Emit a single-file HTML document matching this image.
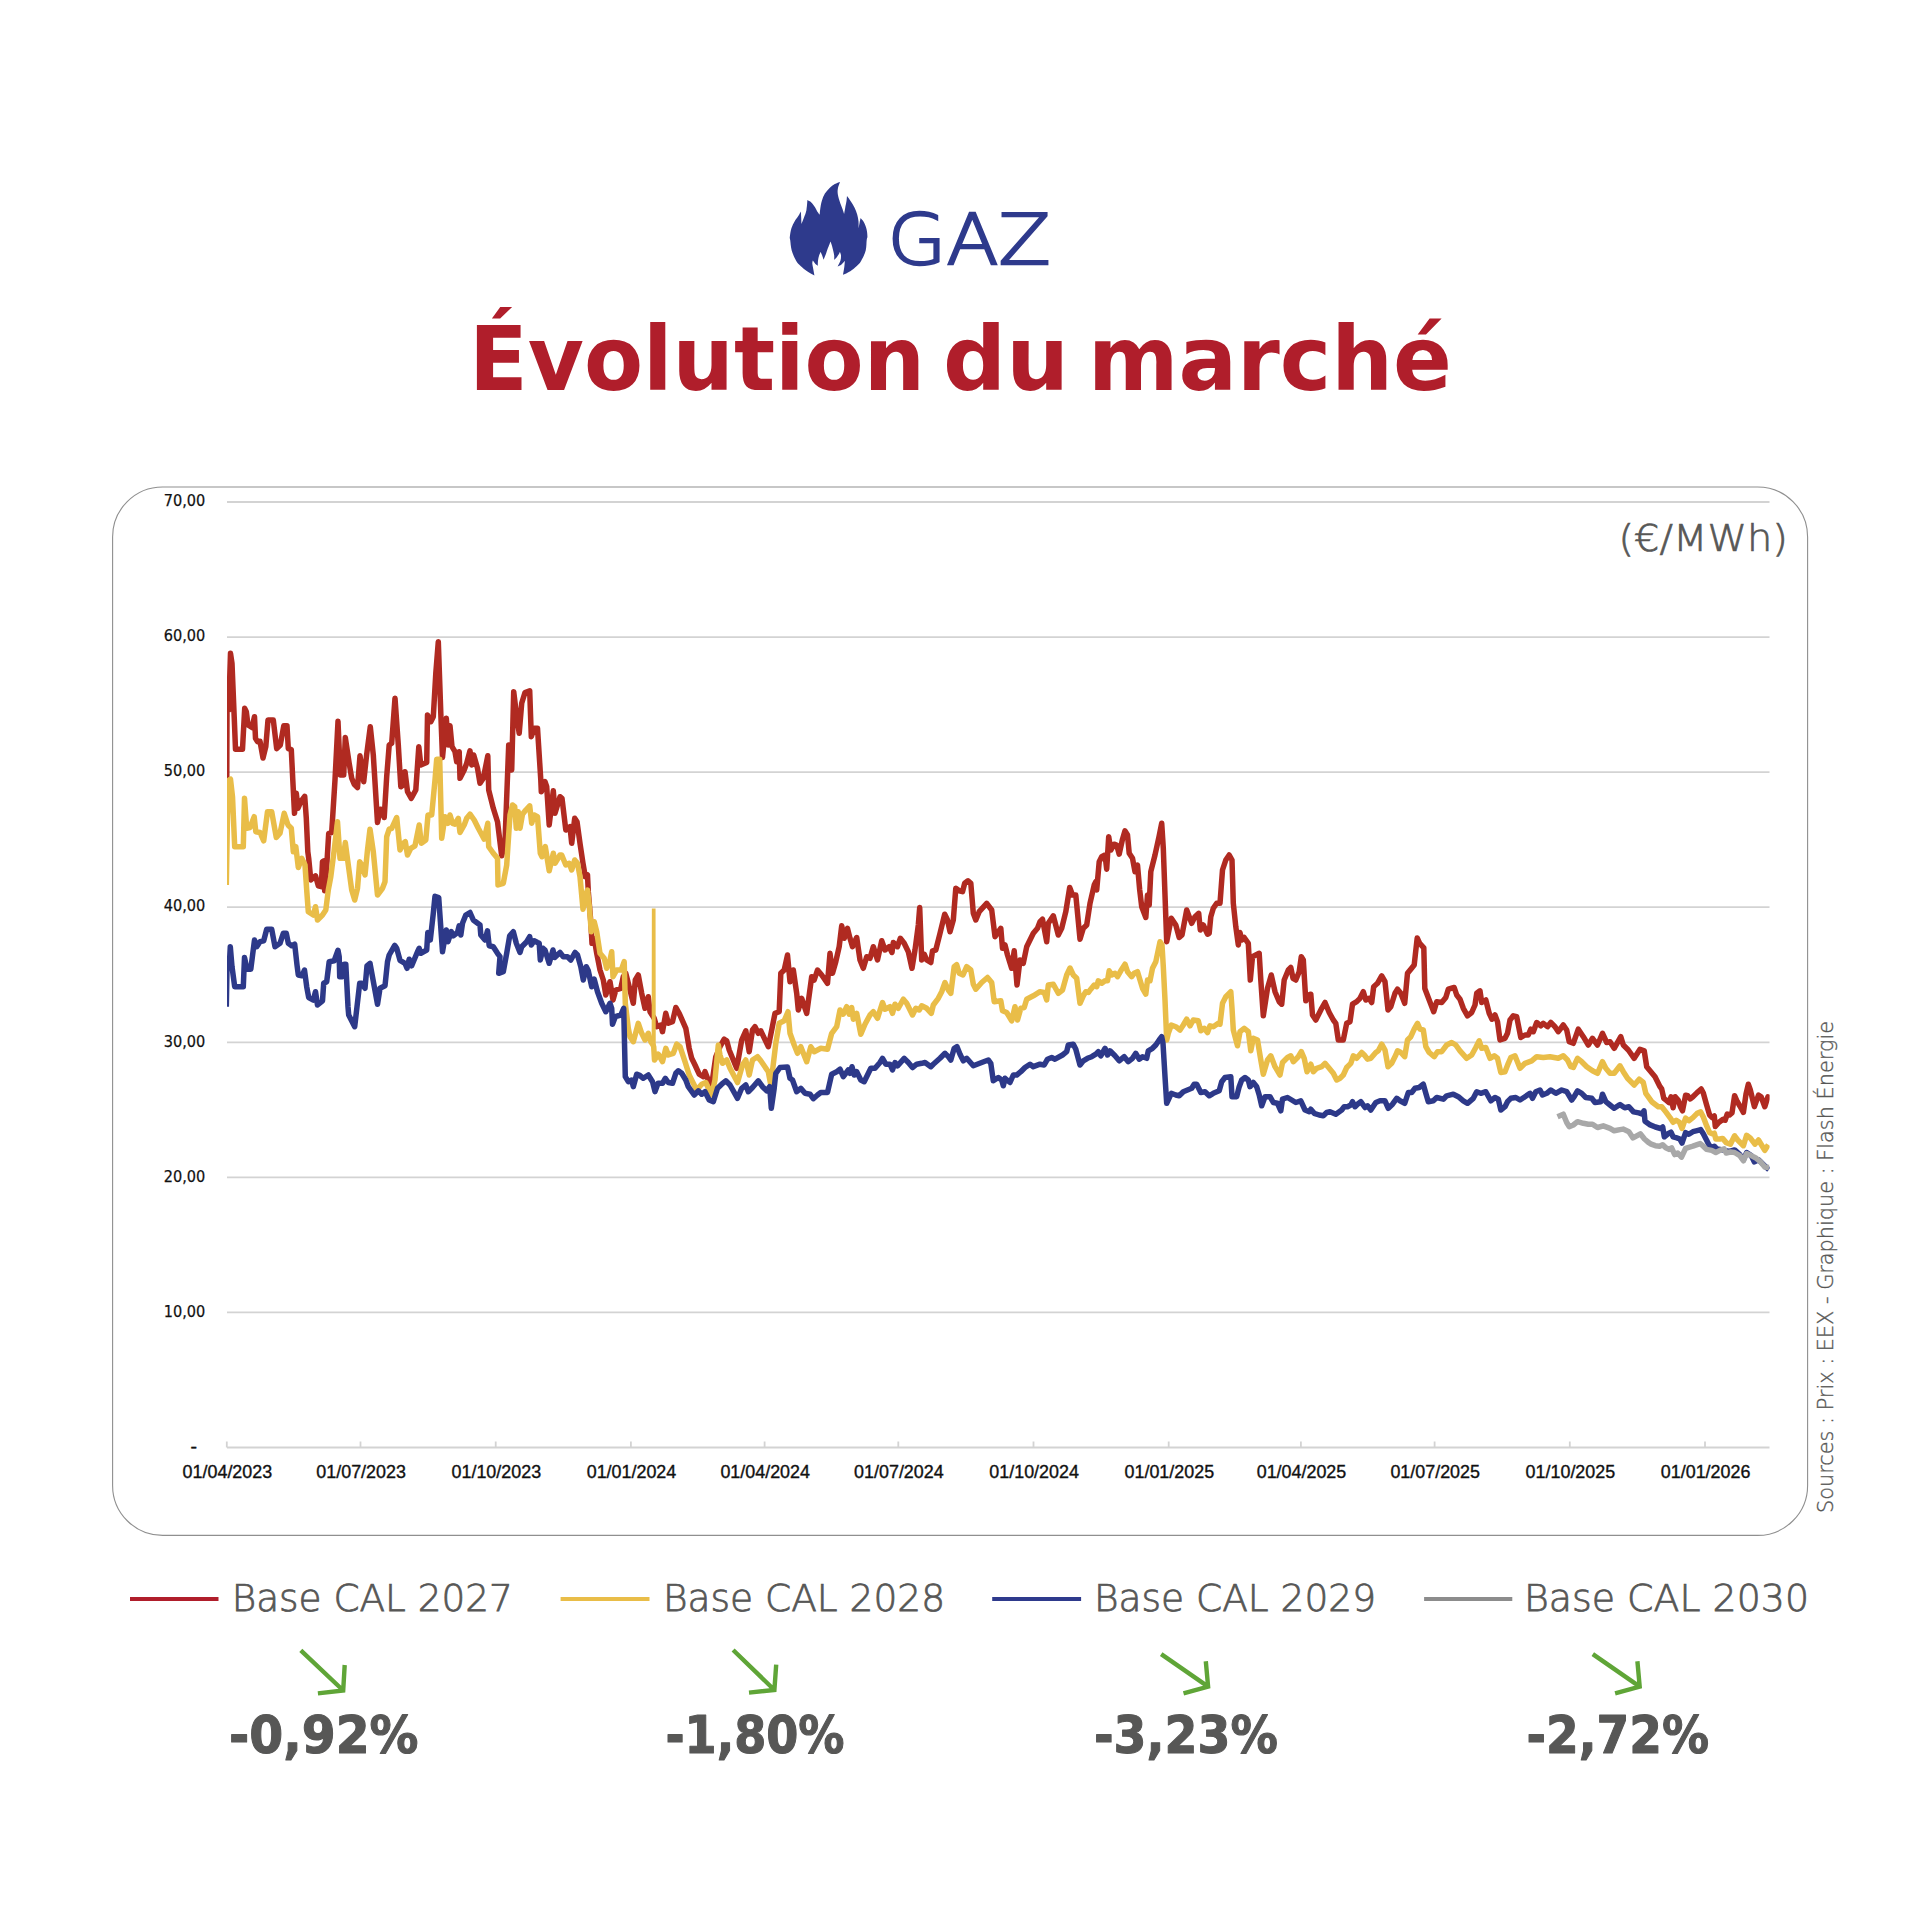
<!DOCTYPE html>
<html lang="fr"><head><meta charset="utf-8"><title>GAZ - Évolution du marché</title>
<style>
html,body{margin:0;padding:0;background:#fff;}
body{width:1920px;height:1920px;overflow:hidden;font-family:"Liberation Sans","DejaVu Sans",sans-serif;}
svg{display:block;}
.lt{font-family:"DejaVu Sans","Liberation Sans",sans-serif;font-weight:200;}
.bd{font-family:"DejaVu Sans","Liberation Sans",sans-serif;font-weight:bold;}
.ax{font-family:"Liberation Sans","DejaVu Sans",sans-serif;}
.ay{font-family:"DejaVu Sans","Liberation Sans",sans-serif;}
</style></head><body>
<svg width="1920" height="1920" viewBox="0 0 1920 1920">
<rect width="1920" height="1920" fill="#ffffff"/>
<g id="header">
<path id="flame" fill="#2e3a8c" d="M840.0,181.9 C839.6,183.0 838.2,186.3 837.9,188.4 C837.5,190.5 837.5,192.2 837.9,194.7 C838.3,197.1 839.5,200.6 840.2,203.0 C841.0,205.4 841.9,207.4 842.6,209.2 C843.2,211.1 843.9,213.2 844.1,213.9 C844.4,212.7 845.1,208.8 845.4,206.6 C845.8,204.5 846.2,202.7 846.5,200.9 C846.8,199.1 846.9,196.8 847.0,196.0 C847.7,196.9 849.7,199.5 850.9,201.4 C852.2,203.4 853.5,205.5 854.6,207.7 C855.6,209.9 856.5,212.2 857.2,214.5 C857.8,216.7 858.2,218.9 858.5,221.2 C858.7,223.5 858.6,227.1 858.6,228.3 C858.8,227.4 859.2,225.0 859.5,223.3 C859.8,221.6 860.4,219.0 860.6,218.1 C861.1,218.8 862.9,220.4 863.9,222.3 C864.9,224.1 866.0,226.7 866.5,229.0 C867.1,231.4 867.4,234.5 867.4,236.3 C867.5,238.2 867.0,237.7 866.7,240.0 C866.4,242.3 866.6,246.9 865.7,250.4 C864.8,253.9 862.7,258.2 861.2,260.8 C859.8,263.4 858.6,264.3 856.8,266.0 C855.0,267.8 852.6,269.8 850.3,271.2 C848.0,272.7 844.2,274.2 843.0,274.8 C843.2,273.5 844.0,269.4 844.3,267.1 C844.6,264.8 844.8,261.9 844.8,260.8 C844.3,261.4 842.7,263.5 841.5,264.5 C840.2,265.4 838.2,266.2 837.6,266.6 C838.0,265.6 839.8,262.7 840.4,260.8 C841.0,259.0 841.1,257.1 841.0,255.6 C841.0,254.1 840.1,252.4 839.9,251.7 C839.7,252.1 839.4,253.2 838.9,254.1 C838.3,255.0 837.6,256.2 836.8,257.2 C836.0,258.1 834.6,259.4 834.2,259.8 C834.2,259.1 834.3,257.0 834.2,255.6 C834.0,254.2 833.7,253.0 833.4,251.5 C833.0,249.9 832.6,247.9 832.1,246.2 C831.6,244.6 830.8,242.3 830.5,241.6 C830.3,242.0 830.0,242.9 829.5,244.2 C829.0,245.5 828.1,247.5 827.4,249.4 C826.7,251.3 826.0,253.9 825.3,255.6 C824.7,257.4 823.8,259.1 823.5,259.8 C823.3,259.1 822.7,257.0 822.2,255.6 C821.7,254.3 820.9,252.4 820.6,251.7 C820.4,252.4 819.5,254.1 819.1,255.6 C818.6,257.1 818.2,259.1 818.0,260.8 C817.8,262.5 817.8,265.0 817.8,265.8 C817.4,265.5 816.2,264.8 815.4,264.0 C814.6,263.1 813.2,261.1 812.8,260.6 C812.7,261.1 812.2,262.0 812.3,263.4 C812.4,264.9 813.0,267.2 813.3,269.2 C813.7,271.2 814.2,274.4 814.4,275.4 C813.2,274.7 809.4,272.8 807.1,271.2 C804.8,269.7 802.4,267.8 800.6,266.0 C798.8,264.3 797.6,263.4 796.1,260.8 C794.7,258.2 792.7,253.9 791.7,250.4 C790.7,246.9 790.5,242.3 790.2,240.0 C789.8,237.7 789.6,238.3 789.9,236.3 C790.1,234.3 790.7,230.5 791.5,228.0 C792.3,225.5 793.5,223.2 794.7,221.2 C795.8,219.2 797.3,217.6 798.3,216.0 C799.4,214.4 800.5,212.3 800.9,211.6 C801.0,212.6 801.1,215.5 801.2,217.6 C801.3,219.7 801.4,223.0 801.4,224.1 C801.9,223.0 803.2,219.9 804.0,217.6 C804.9,215.3 805.8,213.2 806.4,210.3 C806.9,207.4 807.3,201.8 807.4,200.1 C808.1,200.5 810.1,201.3 811.3,202.5 C812.6,203.7 813.9,205.6 815.0,207.2 C816.0,208.7 816.8,210.6 817.6,211.9 C818.4,213.1 819.3,214.2 819.7,214.7 C819.8,213.8 819.8,211.6 820.2,209.2 C820.5,206.9 821.0,203.5 821.8,200.9 C822.5,198.3 823.6,195.8 824.9,193.6 C826.2,191.5 827.9,189.5 829.6,187.9 C831.2,186.3 833.0,185.0 834.8,184.0 C836.5,183.0 839.1,182.3 840.0,181.9 Z"/>
<text class="lt" x="887.52" y="264.2" font-size="70" fill="#2e3a8c" stroke="#2e3a8c" stroke-width="2.3" textLength="162.97" lengthAdjust="spacingAndGlyphs">GAZ</text>
<text class="bd" y="390.3" font-size="88.5" fill="#b01e2b"><tspan x="468.93" textLength="456.13" lengthAdjust="spacingAndGlyphs">Évolution</tspan> <tspan x="943.03" textLength="125.92" lengthAdjust="spacingAndGlyphs">du</tspan> <tspan x="1088.02" textLength="363.97" lengthAdjust="spacingAndGlyphs">marché</tspan></text>
</g>
<g id="frame"><rect x="112.6" y="487" width="1695" height="1048.4" rx="50" ry="50" fill="#fff" stroke="#8f8f8f" stroke-width="1.1"/></g>
<g id="grid" stroke="#d3d3d3" stroke-width="1.8">
<line x1="227" x2="1769.5" y1="1312.4" y2="1312.4"/>
<line x1="227" x2="1769.5" y1="1177.4" y2="1177.4"/>
<line x1="227" x2="1769.5" y1="1042.3" y2="1042.3"/>
<line x1="227" x2="1769.5" y1="907.2" y2="907.2"/>
<line x1="227" x2="1769.5" y1="772.1" y2="772.1"/>
<line x1="227" x2="1769.5" y1="637.1" y2="637.1"/>
<line x1="227" x2="1769.5" y1="502.0" y2="502.0"/>
<line x1="227" x2="1769.5" y1="1447.5" y2="1447.5"/>
<line x1="226.8" x2="226.8" y1="1441.5" y2="1447.5"/>
<line x1="360.5" x2="360.5" y1="1441.5" y2="1447.5"/>
<line x1="495.7" x2="495.7" y1="1441.5" y2="1447.5"/>
<line x1="630.9" x2="630.9" y1="1441.5" y2="1447.5"/>
<line x1="764.6" x2="764.6" y1="1441.5" y2="1447.5"/>
<line x1="898.3" x2="898.3" y1="1441.5" y2="1447.5"/>
<line x1="1033.5" x2="1033.5" y1="1441.5" y2="1447.5"/>
<line x1="1168.7" x2="1168.7" y1="1441.5" y2="1447.5"/>
<line x1="1300.9" x2="1300.9" y1="1441.5" y2="1447.5"/>
<line x1="1434.6" x2="1434.6" y1="1441.5" y2="1447.5"/>
<line x1="1569.8" x2="1569.8" y1="1441.5" y2="1447.5"/>
<line x1="1705.0" x2="1705.0" y1="1441.5" y2="1447.5"/>
</g>
<g id="ylabels" class="ay" font-size="16" fill="#111" stroke="#111" stroke-width="0.25">
<text x="163.70" y="1316.6" textLength="41.50" lengthAdjust="spacingAndGlyphs">10,00</text>
<text x="163.70" y="1181.6" textLength="41.50" lengthAdjust="spacingAndGlyphs">20,00</text>
<text x="163.70" y="1046.5" textLength="41.50" lengthAdjust="spacingAndGlyphs">30,00</text>
<text x="163.70" y="911.4" textLength="41.50" lengthAdjust="spacingAndGlyphs">40,00</text>
<text x="163.70" y="776.4" textLength="41.50" lengthAdjust="spacingAndGlyphs">50,00</text>
<text x="163.70" y="641.3" textLength="41.50" lengthAdjust="spacingAndGlyphs">60,00</text>
<text x="163.70" y="506.2" textLength="41.50" lengthAdjust="spacingAndGlyphs">70,00</text>
<text x="190.6" y="1452.1" font-size="18" stroke-width="0.5">-</text>
</g>
<g id="xlabels" class="ax" font-size="17.5" fill="#111" stroke="#111" stroke-width="0.35">
<text x="182.60" y="1477.7" textLength="89.60" lengthAdjust="spacingAndGlyphs">01/04/2023</text>
<text x="316.30" y="1477.7" textLength="89.60" lengthAdjust="spacingAndGlyphs">01/07/2023</text>
<text x="451.50" y="1477.7" textLength="89.60" lengthAdjust="spacingAndGlyphs">01/10/2023</text>
<text x="586.70" y="1477.7" textLength="89.60" lengthAdjust="spacingAndGlyphs">01/01/2024</text>
<text x="720.40" y="1477.7" textLength="89.60" lengthAdjust="spacingAndGlyphs">01/04/2024</text>
<text x="854.10" y="1477.7" textLength="89.60" lengthAdjust="spacingAndGlyphs">01/07/2024</text>
<text x="989.30" y="1477.7" textLength="89.60" lengthAdjust="spacingAndGlyphs">01/10/2024</text>
<text x="1124.50" y="1477.7" textLength="89.60" lengthAdjust="spacingAndGlyphs">01/01/2025</text>
<text x="1256.70" y="1477.7" textLength="89.60" lengthAdjust="spacingAndGlyphs">01/04/2025</text>
<text x="1390.40" y="1477.7" textLength="89.60" lengthAdjust="spacingAndGlyphs">01/07/2025</text>
<text x="1525.60" y="1477.7" textLength="89.60" lengthAdjust="spacingAndGlyphs">01/10/2025</text>
<text x="1660.80" y="1477.7" textLength="89.60" lengthAdjust="spacingAndGlyphs">01/01/2026</text>
</g>
<text class="lt" x="1618.52" y="551.3" font-size="38" fill="#575756" stroke="#575756" stroke-width="0.7" textLength="169.37" lengthAdjust="spacingAndGlyphs">(€/MWh)</text>
<text class="lt" transform="translate(1832.8,1513) rotate(-90)" font-size="21.5" fill="#575756" stroke="#575756" stroke-width="0.35" textLength="492" lengthAdjust="spacingAndGlyphs">Sources : Prix : EEX - Graphique : Flash Énergie</text>
<clipPath id="plot"><rect x="227" y="495" width="1542.6" height="953"/></clipPath>
<g id="series" clip-path="url(#plot)" fill="none" stroke-width="5.5" stroke-linejoin="round" stroke-linecap="butt">
<polyline stroke="#b02a21" points="226.7,790.0 227.0,710.0 228.7,710.0 230.5,653.3 232.0,663.3 234.2,716.7 235.5,749.2 242.5,749.2 244.7,708.3 246.3,711.7 248.0,725.0 252.0,727.5 254.5,716.7 255.5,738.3 257.5,741.7 260.0,741.3 263.0,758.0 265.8,746.7 268.0,720.0 273.3,720.0 276.7,748.7 280.3,745.0 283.8,725.8 287.0,725.8 288.3,748.7 291.3,749.7 292.8,780.0 294.5,813.3 296.3,793.3 298.0,808.3 300.8,801.7 304.7,796.3 306.3,818.3 307.8,851.7 308.7,858.3 310.8,880.0 315.5,875.8 318.3,885.8 321.3,886.7 322.5,861.7 324.2,860.8 324.7,890.8 326.7,866.7 328.7,833.3 331.7,832.5 335.0,780.0 338.0,721.3 340.3,775.0 343.7,775.0 345.3,737.5 349.2,763.3 351.7,778.3 354.2,784.2 357.5,787.5 360.0,755.8 363.7,781.7 366.7,754.2 370.3,726.7 373.3,755.0 377.5,822.5 380.3,809.2 382.5,810.0 384.2,817.5 386.7,776.7 389.2,745.0 391.7,743.3 395.0,698.3 398.3,745.0 400.8,786.7 403.0,785.0 405.0,771.7 407.5,791.7 411.3,798.3 415.8,790.0 418.8,746.7 420.8,765.0 426.7,762.5 427.5,715.0 430.8,721.7 433.3,716.7 435.8,673.3 438.3,641.7 440.8,713.3 442.5,757.5 446.3,718.3 448.3,745.0 450.0,725.8 452.0,746.7 455.0,751.7 456.7,761.7 459.2,751.7 460.0,778.3 464.2,770.0 466.7,763.3 470.0,750.8 471.7,765.0 473.7,755.0 477.5,768.3 480.0,783.3 483.3,778.3 487.8,755.8 488.7,790.0 493.3,808.3 497.5,821.7 501.7,855.8 505.0,841.7 508.7,745.0 511.7,770.0 513.7,691.7 516.7,716.7 519.2,733.3 521.7,703.3 525.0,692.5 529.7,690.8 531.3,736.7 534.2,728.3 537.5,728.3 540.8,780.0 541.3,791.7 545.0,781.7 546.7,786.7 549.2,825.0 553.3,790.8 555.0,813.3 560.0,796.7 562.0,798.3 565.8,830.0 570.0,826.7 571.7,843.3 574.7,818.3 577.0,821.7 580.0,843.3 583.0,863.3 585.3,876.7 587.5,875.0 588.3,891.7 590.8,921.7 592.0,943.3 594.2,938.3 596.7,953.3 600.0,970.0 603.3,980.0 605.8,995.0 610.0,981.7 613.0,1000.0 615.8,990.0 620.8,988.3 623.3,976.7 625.8,973.3 630.0,990.0 633.3,1003.3 635.3,980.0 638.3,975.0 641.7,993.3 645.0,1008.3 648.3,996.7 650.0,1011.7 654.2,1018.3 656.7,1026.7 660.8,1025.0 662.5,1031.7 665.8,1013.3 668.3,1023.3 672.5,1021.7 675.8,1007.5 679.2,1013.3 685.8,1028.3 689.2,1048.3 691.7,1058.3 695.0,1065.0 699.2,1074.2 703.3,1076.7 705.0,1071.7 707.5,1078.3 711.7,1085.0 715.8,1056.7 720.0,1046.7 724.2,1039.2 726.7,1040.8 729.2,1050.0 736.7,1068.3 741.7,1040.0 745.8,1030.8 749.2,1051.7 752.5,1030.0 755.0,1026.7 758.3,1033.3 760.8,1030.8 768.3,1046.7 771.7,1030.0 775.0,1013.3 779.2,1011.7 780.8,973.3 784.2,970.0 787.5,955.0 790.0,981.7 793.3,970.0 796.7,993.3 798.3,1010.0 801.7,998.3 806.7,1013.3 811.7,976.7 814.2,980.0 817.5,970.0 821.7,975.0 827.5,983.3 830.0,953.3 832.5,973.3 835.8,961.7 839.2,946.7 841.7,925.8 844.2,938.3 847.5,928.3 850.0,938.3 852.5,946.7 856.7,937.5 860.0,960.0 863.3,968.3 866.7,956.7 870.0,958.3 873.3,946.7 877.5,960.0 881.7,940.8 885.0,950.0 889.2,946.7 892.0,952.5 893.3,942.5 897.5,946.7 900.3,938.3 904.2,943.3 908.3,951.7 912.0,968.3 915.0,950.0 918.3,925.0 919.7,907.5 921.7,960.0 924.2,954.2 926.7,960.0 930.8,962.5 932.5,950.8 935.8,950.0 940.0,933.3 944.7,914.2 947.5,920.0 950.0,931.7 953.3,920.0 955.8,888.3 959.2,890.8 962.5,891.7 964.7,883.3 968.0,880.8 970.8,883.3 973.3,913.3 975.8,920.0 979.2,911.7 986.7,903.3 991.7,910.0 995.0,936.7 1000.8,928.3 1002.5,948.3 1005.0,945.0 1007.5,955.0 1011.7,968.3 1014.2,950.8 1017.0,985.0 1020.0,960.0 1023.3,963.3 1026.7,946.7 1033.3,933.3 1037.5,928.3 1040.0,921.7 1042.5,919.2 1046.7,941.7 1048.3,923.3 1053.3,915.8 1058.3,935.0 1061.7,928.3 1065.8,911.7 1069.7,887.5 1072.5,895.0 1075.8,895.0 1080.0,939.2 1083.3,928.3 1086.7,925.0 1090.0,903.3 1094.2,885.0 1095.8,881.7 1096.7,890.0 1099.2,861.7 1101.7,856.7 1105.0,855.0 1106.7,869.2 1108.7,836.7 1110.8,850.0 1114.2,844.2 1116.7,845.0 1119.2,854.2 1122.5,839.2 1125.0,830.8 1127.5,835.0 1129.2,853.3 1132.5,858.3 1135.0,871.7 1137.5,865.0 1139.7,890.0 1141.7,906.7 1145.8,917.5 1147.5,895.0 1149.2,905.0 1150.8,871.7 1155.0,855.0 1159.2,835.8 1161.7,823.3 1163.3,848.3 1166.7,941.7 1171.3,918.3 1175.8,925.0 1179.2,937.5 1182.0,935.0 1186.7,910.0 1189.2,916.7 1191.7,923.3 1195.0,916.7 1198.7,913.3 1200.3,930.0 1203.3,925.0 1207.5,934.2 1209.2,933.3 1210.8,916.7 1213.3,908.3 1216.7,903.3 1220.0,903.3 1222.5,870.0 1225.8,860.0 1229.2,855.0 1232.0,860.0 1233.3,903.3 1235.8,926.7 1238.3,945.0 1240.0,932.5 1241.7,940.0 1244.2,937.5 1248.3,943.3 1250.3,980.0 1252.5,956.7 1255.8,955.0 1259.2,953.3 1260.8,980.0 1263.3,1015.8 1267.5,988.3 1271.3,975.0 1275.0,991.7 1279.2,1001.7 1281.7,1004.2 1284.2,980.0 1288.3,970.0 1290.8,967.5 1293.0,978.3 1295.8,980.0 1299.2,971.7 1301.3,956.7 1303.3,960.0 1305.8,1000.8 1308.3,995.0 1310.8,994.2 1312.5,1015.0 1315.8,1020.0 1321.7,1008.3 1325.0,1002.5 1329.2,1012.5 1333.3,1020.0 1335.8,1023.3 1338.3,1040.0 1343.3,1040.0 1346.7,1023.3 1350.0,1021.7 1352.5,1004.2 1356.7,1001.7 1360.0,998.3 1363.3,991.7 1365.8,1000.0 1369.2,998.3 1371.7,1002.5 1373.7,986.7 1377.5,983.3 1381.7,975.8 1385.0,981.7 1388.0,1010.0 1390.8,1006.7 1395.0,993.3 1397.5,989.2 1400.8,993.3 1404.7,1003.3 1407.5,973.3 1410.8,969.2 1414.2,965.0 1415.3,955.0 1417.2,938.0 1419.7,943.3 1423.8,947.8 1424.8,988.5 1429.2,1000.0 1433.7,1011.7 1436.7,1001.7 1441.7,1002.5 1445.8,997.5 1448.3,989.2 1454.2,987.5 1456.7,995.0 1460.0,999.2 1463.3,1008.3 1467.5,1015.8 1471.7,1012.5 1475.0,1005.0 1476.7,993.3 1480.0,990.8 1481.7,1002.5 1485.8,1000.0 1489.2,1013.3 1492.0,1019.2 1495.0,1015.0 1497.5,1021.7 1500.0,1040.0 1505.0,1038.3 1507.5,1033.3 1510.0,1020.0 1513.3,1015.8 1516.7,1016.7 1520.8,1037.5 1525.0,1035.0 1528.3,1035.0 1530.8,1029.2 1533.3,1031.7 1536.7,1022.5 1540.8,1025.8 1543.3,1023.3 1547.5,1026.7 1550.8,1022.5 1555.0,1026.7 1558.3,1031.7 1563.3,1025.0 1566.7,1030.0 1569.2,1041.7 1573.3,1043.3 1578.3,1029.2 1583.3,1036.7 1588.3,1045.0 1592.5,1038.3 1597.5,1045.0 1602.5,1033.3 1606.7,1042.5 1610.0,1041.7 1614.2,1048.3 1620.8,1036.7 1623.3,1045.0 1628.3,1050.0 1634.2,1058.3 1640.0,1049.2 1644.2,1050.8 1646.7,1066.7 1655.0,1076.7 1660.0,1086.7 1661.7,1089.0 1663.8,1098.3 1666.4,1100.4 1669.0,1102.5 1671.0,1096.8 1673.1,1107.7 1675.2,1096.8 1678.3,1100.4 1680.4,1106.7 1682.5,1110.8 1685.6,1095.2 1687.7,1095.7 1690.3,1098.9 1692.9,1096.8 1697.1,1092.6 1701.2,1089.0 1703.3,1093.1 1706.5,1104.6 1709.6,1115.0 1712.2,1117.6 1714.3,1116.0 1715.3,1126.5 1719.0,1122.3 1723.1,1119.2 1725.2,1120.2 1727.3,1114.0 1729.4,1115.0 1732.0,1112.9 1734.6,1095.7 1737.2,1101.5 1740.8,1107.7 1743.4,1112.4 1746.0,1094.2 1748.3,1084.3 1750.2,1089.5 1754.4,1106.7 1758.5,1095.2 1761.1,1096.8 1764.8,1106.7 1767.9,1096.8 1769.0,1099.4"/>
<polyline stroke="#e9bd48" points="226.3,885.0 227.5,815.0 229.2,780.0 230.5,779.2 232.5,796.7 234.7,846.7 243.3,846.7 244.5,798.3 246.7,828.3 250.0,827.5 254.2,816.7 255.8,831.7 260.0,832.5 263.7,840.8 267.5,811.7 271.7,811.7 276.3,837.5 280.0,833.3 284.2,813.3 288.0,825.0 291.3,828.3 293.3,851.7 295.8,846.7 298.3,867.5 301.7,858.3 305.0,865.0 306.7,890.0 308.3,911.7 313.3,915.0 315.5,906.7 317.5,920.0 322.5,915.0 325.8,910.0 328.3,890.0 330.8,876.7 334.2,850.0 337.5,821.7 340.0,858.3 343.3,858.3 345.3,842.5 348.3,865.0 351.7,890.0 354.7,900.0 357.5,888.3 359.7,861.7 361.7,865.0 365.0,875.0 367.5,850.0 370.0,829.2 373.3,851.7 377.5,895.0 382.5,888.3 385.0,881.7 386.7,836.7 389.2,829.2 391.7,828.3 396.7,817.5 400.0,850.0 403.3,843.3 405.3,841.7 407.5,855.0 410.8,848.3 415.0,845.8 419.2,825.0 421.3,843.3 425.8,840.0 428.0,815.0 431.7,815.0 435.0,780.0 436.7,759.2 439.7,759.2 441.7,838.3 445.0,816.7 448.0,823.3 450.0,815.0 452.5,823.3 455.0,824.2 458.3,818.3 460.0,832.5 464.2,825.0 466.7,818.3 470.0,814.2 474.2,820.0 478.3,828.3 484.2,839.2 487.8,823.3 488.7,846.7 493.3,853.3 497.5,858.3 498.0,885.0 503.3,883.3 506.7,865.0 510.0,815.0 512.5,805.0 514.7,806.7 516.3,828.3 518.3,811.7 520.0,828.3 522.5,814.2 525.8,810.0 529.7,805.8 531.7,823.3 534.2,815.0 537.5,816.7 540.3,853.3 542.0,856.7 545.3,846.7 549.2,870.8 553.3,853.3 555.0,863.3 560.0,855.0 561.7,855.0 565.8,865.0 569.2,863.3 571.7,870.0 574.7,860.0 577.5,863.3 580.0,876.7 583.0,909.2 585.8,895.0 587.5,890.0 589.2,905.0 591.3,931.7 594.2,921.7 596.7,931.7 600.0,953.3 604.2,958.3 606.7,968.3 610.0,960.0 611.7,951.7 613.0,976.7 616.7,970.0 621.3,970.0 624.2,961.7 625.3,1003.3 628.3,1028.3 630.0,1036.7 633.3,1041.7 638.3,1023.3 641.7,1033.3 645.0,1040.0 648.3,1033.3 650.8,1041.7 653.0,1045.0 653.7,1046.7 654.5,1060.0 658.3,1054.2 662.5,1061.7 665.8,1048.3 668.3,1055.0 673.3,1053.3 676.7,1044.2 680.0,1046.7 685.0,1061.7 689.2,1075.0 692.5,1081.7 696.7,1090.0 701.7,1084.2 705.8,1082.5 711.7,1095.0 715.0,1080.0 718.3,1045.0 720.0,1055.0 722.5,1063.3 726.7,1060.0 730.0,1068.3 737.5,1082.5 742.5,1065.0 745.8,1060.0 749.2,1075.0 752.5,1060.0 757.5,1056.7 760.8,1060.8 768.3,1071.7 770.8,1085.0 775.8,1043.3 779.2,1023.3 784.2,1020.8 788.0,1011.7 790.0,1033.3 794.2,1045.0 797.5,1053.3 800.8,1046.7 806.7,1061.7 810.8,1046.7 814.2,1051.7 820.8,1048.3 827.5,1049.2 831.7,1033.3 836.7,1026.7 840.0,1010.0 843.3,1014.2 846.7,1006.7 849.2,1014.2 851.7,1007.5 853.3,1019.2 856.7,1013.3 860.8,1034.2 865.0,1024.2 870.0,1015.0 873.3,1011.7 877.5,1018.3 882.5,1002.5 885.0,1009.2 890.0,1006.7 892.5,1013.3 895.0,1004.2 898.3,1008.3 903.3,999.2 906.7,1003.3 912.5,1015.0 915.8,1008.3 919.2,1010.0 921.7,1005.8 926.7,1008.3 931.3,1013.3 933.3,1005.0 938.3,998.3 941.7,991.7 945.0,982.5 948.3,990.0 950.8,993.3 954.2,966.7 956.7,964.7 959.2,973.3 963.0,975.0 966.7,966.7 970.8,970.0 973.3,984.2 975.8,989.2 981.7,982.5 987.5,977.5 991.7,982.5 994.2,1001.7 1000.8,1000.8 1002.5,1010.8 1006.7,1012.5 1011.7,1020.8 1015.0,1006.7 1017.5,1020.0 1020.8,1008.3 1024.2,1007.5 1026.7,999.2 1033.3,995.8 1040.0,991.7 1044.2,992.5 1046.7,1000.0 1048.3,985.0 1053.3,984.2 1058.3,993.3 1062.5,990.0 1066.7,975.0 1070.0,968.0 1073.3,975.0 1076.7,978.3 1080.0,1003.3 1083.3,995.8 1085.8,991.7 1088.3,992.5 1090.8,989.2 1094.2,985.0 1096.7,986.7 1098.3,980.8 1101.7,983.3 1105.0,980.8 1107.5,980.8 1109.2,970.8 1111.7,975.0 1115.0,973.3 1117.5,976.7 1120.8,970.8 1125.0,964.2 1127.5,971.7 1131.7,976.7 1134.2,973.3 1137.5,971.7 1140.0,980.0 1142.5,988.3 1145.8,994.2 1147.5,980.0 1150.0,980.8 1152.5,968.3 1155.8,961.7 1160.0,941.7 1162.0,945.0 1163.3,966.7 1165.0,1000.0 1166.7,1040.0 1168.3,1033.3 1171.3,1025.0 1175.8,1026.7 1180.0,1030.0 1183.3,1025.0 1186.7,1019.2 1190.0,1025.8 1193.3,1020.0 1198.3,1020.8 1200.8,1030.8 1204.2,1028.3 1207.5,1032.5 1210.0,1025.8 1213.3,1026.7 1218.3,1023.3 1220.0,1024.2 1222.5,1003.3 1225.8,996.7 1230.8,991.7 1232.0,1008.3 1233.3,1030.0 1237.5,1045.8 1240.0,1031.7 1244.2,1028.3 1248.3,1031.7 1250.8,1050.8 1253.3,1038.3 1257.5,1040.0 1260.8,1060.0 1263.3,1074.2 1267.5,1060.0 1270.8,1055.8 1275.0,1066.7 1280.0,1075.0 1282.5,1062.5 1287.5,1057.5 1290.8,1055.8 1293.3,1061.7 1298.3,1056.7 1301.3,1051.7 1304.2,1058.3 1307.0,1071.7 1310.8,1064.2 1313.3,1071.7 1316.7,1068.3 1321.7,1066.7 1325.0,1063.3 1329.2,1068.3 1333.3,1073.3 1336.7,1080.0 1340.0,1078.3 1343.3,1075.0 1346.7,1067.5 1350.8,1063.3 1353.3,1055.8 1356.7,1058.3 1361.7,1052.5 1365.0,1055.8 1367.5,1059.2 1370.8,1058.3 1375.8,1052.5 1378.3,1050.8 1381.7,1044.2 1385.0,1050.0 1388.0,1066.7 1391.7,1063.3 1395.8,1055.0 1397.5,1050.8 1400.8,1052.5 1404.7,1056.7 1407.5,1040.0 1410.8,1036.7 1414.2,1029.2 1417.5,1023.3 1420.0,1029.2 1423.3,1030.0 1425.8,1046.7 1429.2,1052.5 1434.2,1056.7 1437.5,1051.7 1441.7,1051.7 1446.7,1045.0 1451.7,1042.5 1455.8,1045.0 1460.0,1050.8 1466.7,1058.3 1471.7,1055.0 1475.8,1047.5 1479.2,1040.8 1481.7,1048.3 1485.8,1047.5 1490.0,1058.3 1494.2,1055.8 1497.5,1058.3 1500.8,1072.5 1505.0,1071.7 1508.3,1063.3 1510.8,1057.5 1515.0,1055.8 1520.0,1068.3 1525.0,1063.3 1531.7,1060.8 1536.7,1056.7 1543.3,1057.5 1550.0,1056.7 1558.3,1058.3 1563.3,1055.8 1567.5,1060.0 1570.8,1066.7 1573.3,1067.5 1577.5,1058.3 1581.7,1061.7 1586.7,1066.7 1592.5,1070.8 1597.5,1073.3 1602.5,1061.7 1605.8,1068.3 1610.0,1073.3 1614.2,1073.3 1620.0,1065.8 1623.3,1071.7 1627.5,1078.3 1634.2,1085.0 1639.2,1079.2 1643.3,1082.5 1645.8,1093.3 1651.7,1101.7 1658.3,1106.7 1661.7,1106.7 1665.8,1111.9 1670.0,1117.6 1673.1,1122.3 1676.2,1120.2 1679.4,1122.3 1682.0,1128.5 1685.6,1118.1 1688.8,1120.7 1692.9,1117.6 1697.1,1113.4 1700.7,1111.9 1703.3,1117.1 1706.5,1125.4 1709.6,1132.7 1712.7,1133.8 1714.3,1133.2 1715.8,1139.0 1720.0,1139.0 1722.6,1138.4 1726.2,1142.6 1730.4,1144.2 1734.6,1135.8 1737.7,1140.0 1743.4,1145.7 1746.6,1135.3 1750.2,1137.9 1754.9,1144.2 1758.5,1140.0 1761.7,1145.2 1764.8,1150.4 1768.4,1144.7"/>
<polyline stroke="#e9bd48" stroke-width="3.7" stroke-linejoin="miter" stroke-miterlimit="1" points="653.5,1046 653.7,908.5 653.9,1050"/>
<polyline stroke="#2d3989" points="226.3,1006.7 227.0,967.5 229.2,967.5 230.3,946.7 232.0,966.7 234.7,986.7 243.3,986.7 244.5,957.5 247.0,969.2 250.8,969.2 254.5,940.0 256.7,946.7 260.0,941.7 263.7,940.8 266.7,929.2 271.7,929.2 275.0,946.7 280.0,943.3 283.3,933.3 286.3,933.3 288.3,943.3 291.7,945.8 294.7,944.2 297.0,965.0 298.3,975.0 302.0,975.8 304.5,970.0 306.7,986.7 308.7,997.5 313.3,1000.0 315.5,991.7 317.5,1005.0 322.5,1000.8 323.7,983.3 326.7,981.7 329.2,961.7 334.2,960.8 338.0,950.3 339.2,956.7 339.7,976.7 342.5,976.7 344.2,964.2 345.8,964.2 348.0,1006.7 348.7,1015.0 354.7,1026.7 359.7,983.3 361.7,983.3 365.0,988.3 367.0,965.8 370.0,963.3 377.5,1004.2 380.0,988.3 385.0,985.8 387.5,961.7 389.2,955.0 394.7,945.3 396.7,948.3 400.0,960.3 405.0,963.3 407.0,968.3 409.2,959.2 411.7,965.8 417.5,951.7 419.2,948.3 420.8,953.3 426.7,950.0 427.8,932.5 430.3,940.0 433.3,913.3 435.0,896.3 438.7,897.5 442.5,951.7 446.3,930.0 448.0,941.7 451.3,931.7 453.3,935.8 457.5,932.5 459.2,925.8 460.8,935.0 462.5,923.3 465.8,915.0 470.0,912.5 473.3,920.0 480.0,925.0 480.8,935.0 485.0,940.0 487.5,930.8 489.2,945.8 493.3,946.7 497.5,953.3 500.0,956.7 498.7,973.3 503.3,971.7 506.7,953.3 509.7,935.8 513.3,931.7 516.3,943.3 520.0,952.5 521.7,946.7 526.7,941.7 529.7,936.7 531.3,945.0 534.2,940.8 537.5,942.5 539.2,943.3 540.3,960.0 543.0,948.3 545.0,950.0 549.2,963.3 553.0,950.0 554.7,957.5 560.0,952.5 563.3,956.7 567.5,956.7 570.8,960.0 575.0,952.5 577.5,955.0 580.8,966.7 583.3,980.0 586.3,966.7 588.3,970.8 591.7,986.7 594.2,979.2 597.5,991.7 601.7,1003.3 605.8,1011.7 610.0,1003.3 611.7,1008.3 612.5,1024.2 615.3,1016.7 620.8,1015.0 623.7,1008.3 625.3,1076.7 628.3,1081.7 631.7,1080.0 633.3,1086.7 636.7,1074.2 639.2,1075.0 643.3,1078.3 648.3,1075.0 652.5,1081.7 655.0,1091.7 658.0,1083.3 662.5,1083.3 665.3,1078.3 668.3,1082.5 672.5,1083.3 675.8,1073.3 678.3,1070.8 681.7,1073.3 685.8,1080.0 688.3,1086.7 694.2,1095.0 698.3,1090.8 701.7,1094.2 705.0,1091.7 709.2,1100.0 713.3,1101.7 717.5,1088.3 721.7,1084.2 725.8,1080.8 730.0,1085.0 737.5,1098.3 741.7,1088.3 745.8,1085.0 748.3,1091.7 752.5,1087.5 758.3,1080.8 762.5,1086.7 766.7,1090.8 769.7,1086.7 771.3,1108.3 774.2,1088.3 775.8,1073.3 780.0,1067.5 787.5,1067.0 790.0,1078.3 792.5,1080.0 796.7,1091.7 800.8,1088.3 805.0,1093.3 810.0,1094.2 813.3,1098.7 817.5,1095.0 820.8,1092.5 827.5,1092.5 831.7,1074.2 836.7,1071.7 840.0,1069.2 843.3,1076.7 848.3,1070.0 850.0,1073.3 852.0,1066.7 854.2,1075.0 856.7,1071.7 860.8,1080.0 864.2,1081.7 870.8,1068.3 875.0,1068.3 880.0,1062.5 882.5,1058.3 885.8,1064.2 890.0,1064.2 892.5,1070.0 895.0,1062.5 897.5,1065.8 904.2,1058.3 908.3,1062.5 912.5,1067.5 916.7,1064.2 921.7,1063.3 925.0,1062.5 930.8,1066.7 933.3,1064.2 940.0,1058.3 945.0,1053.3 948.3,1056.7 950.8,1060.0 954.2,1048.3 957.0,1046.7 960.0,1054.2 963.3,1060.8 966.7,1058.3 973.3,1065.8 981.7,1062.5 988.3,1060.0 990.8,1063.3 993.3,1080.8 998.3,1077.5 1001.7,1080.0 1003.3,1085.8 1005.0,1078.3 1010.0,1082.5 1013.3,1075.0 1016.7,1075.0 1020.8,1071.7 1025.0,1067.5 1030.0,1064.2 1033.3,1066.7 1040.0,1064.2 1044.2,1065.0 1047.5,1059.2 1051.7,1057.5 1055.0,1059.2 1062.5,1055.0 1066.7,1051.7 1068.3,1045.0 1073.3,1044.2 1075.8,1049.2 1080.0,1065.0 1083.3,1060.8 1087.5,1058.3 1091.7,1056.7 1095.8,1054.2 1098.3,1051.7 1100.8,1055.8 1105.0,1048.3 1107.5,1055.0 1110.0,1050.8 1115.0,1055.8 1119.2,1060.8 1124.2,1056.7 1128.3,1061.7 1132.5,1058.3 1135.8,1053.3 1139.2,1059.2 1142.5,1056.7 1146.7,1058.3 1148.3,1050.8 1152.5,1048.3 1155.8,1045.0 1159.2,1040.0 1161.7,1036.7 1163.0,1043.3 1165.0,1076.7 1166.7,1103.3 1171.3,1093.3 1175.8,1095.0 1179.2,1095.8 1183.3,1091.7 1187.5,1090.0 1191.7,1088.3 1194.2,1084.2 1196.7,1084.2 1200.8,1092.5 1205.0,1091.7 1209.2,1095.8 1213.3,1093.3 1219.2,1090.8 1221.7,1081.7 1225.0,1077.5 1230.8,1076.7 1232.0,1096.7 1236.7,1096.7 1239.2,1086.7 1241.7,1080.0 1245.0,1077.5 1248.3,1080.0 1250.0,1086.7 1253.3,1082.5 1256.7,1086.7 1259.2,1095.0 1261.7,1105.8 1265.0,1096.7 1270.0,1096.7 1273.3,1102.5 1277.5,1103.3 1280.8,1110.8 1282.5,1099.2 1287.5,1097.5 1291.7,1100.0 1295.8,1102.5 1300.8,1100.8 1305.0,1110.0 1309.2,1111.7 1310.8,1109.2 1314.2,1113.3 1319.2,1115.0 1323.3,1115.8 1326.7,1112.5 1330.0,1111.7 1335.8,1114.2 1341.7,1110.0 1344.2,1106.7 1347.5,1106.7 1350.8,1105.0 1352.5,1101.7 1355.0,1106.7 1357.5,1104.2 1360.8,1101.7 1365.0,1107.5 1367.5,1105.8 1370.8,1110.0 1375.8,1102.5 1380.0,1100.8 1385.0,1100.8 1388.3,1108.3 1392.5,1104.2 1396.7,1098.3 1400.0,1100.8 1404.7,1103.3 1408.3,1092.5 1411.7,1092.5 1415.0,1088.3 1419.2,1087.5 1423.3,1084.2 1425.8,1093.3 1428.3,1101.7 1433.3,1100.8 1436.7,1097.5 1443.3,1099.2 1446.7,1095.8 1453.3,1094.2 1458.3,1096.7 1463.3,1100.8 1467.5,1103.3 1473.3,1098.3 1476.7,1091.7 1480.8,1093.3 1485.8,1091.7 1490.8,1100.8 1495.0,1097.5 1498.3,1099.2 1500.8,1110.0 1505.0,1106.7 1507.5,1101.7 1510.8,1098.3 1515.8,1097.5 1520.0,1100.0 1525.0,1096.7 1530.0,1093.3 1532.5,1098.3 1535.8,1091.7 1540.0,1090.0 1542.5,1095.0 1546.7,1093.3 1550.8,1090.0 1555.8,1093.3 1561.7,1090.0 1566.7,1091.7 1571.7,1100.0 1574.2,1096.7 1577.5,1090.8 1581.7,1093.3 1585.8,1097.5 1591.7,1098.3 1595.0,1102.5 1600.8,1101.7 1602.5,1094.2 1605.8,1101.7 1610.0,1105.0 1614.2,1108.3 1619.2,1105.0 1620.0,1104.6 1624.7,1107.7 1628.9,1106.7 1633.5,1111.9 1638.8,1112.9 1642.4,1114.0 1644.0,1110.8 1645.0,1121.2 1650.2,1124.9 1655.4,1127.0 1660.6,1128.5 1662.7,1127.0 1664.3,1136.9 1667.9,1133.8 1671.0,1132.2 1673.1,1136.9 1676.8,1137.9 1679.9,1139.0 1682.0,1143.1 1685.6,1132.7 1688.8,1134.3 1692.9,1131.7 1697.1,1130.6 1700.7,1129.6 1703.3,1133.8 1706.5,1140.0 1709.1,1145.2 1711.7,1147.3 1714.3,1146.2 1716.9,1148.9 1720.0,1149.4 1724.2,1150.4 1729.4,1151.5 1734.6,1149.9 1739.8,1154.6 1743.4,1159.8 1746.6,1152.5 1751.2,1155.6 1754.4,1161.9 1758.5,1159.8 1763.8,1165.0 1769.0,1169.7"/>
<polyline stroke="#a8a8a8" points="1557.5,1116.7 1563.3,1114.2 1566.7,1122.5 1569.2,1126.7 1573.3,1125.0 1577.5,1121.7 1583.3,1123.3 1588.3,1124.2 1592.5,1124.2 1597.5,1127.5 1603.3,1125.8 1610.0,1128.3 1614.2,1130.8 1620.0,1129.6 1623.1,1129.1 1628.9,1131.7 1633.0,1137.9 1636.7,1135.8 1640.3,1133.8 1644.5,1139.0 1648.1,1142.1 1651.2,1144.2 1655.4,1145.7 1659.6,1146.2 1662.7,1144.7 1665.8,1147.8 1669.0,1149.4 1671.6,1147.8 1674.7,1154.6 1677.8,1153.0 1681.5,1157.2 1685.6,1148.3 1688.8,1147.3 1692.9,1146.2 1697.1,1144.7 1700.2,1143.6 1703.3,1146.2 1706.5,1149.4 1711.7,1150.4 1715.8,1152.5 1720.0,1150.4 1724.2,1148.9 1726.2,1153.0 1730.4,1152.0 1734.6,1152.5 1739.8,1155.6 1743.4,1160.8 1746.6,1153.5 1751.2,1155.6 1755.4,1157.7 1760.6,1161.9 1764.8,1167.1 1769.0,1167.6"/>
</g>
<g id="legend">
<line x1="130" x2="218.5" y1="1599.1" y2="1599.1" stroke="#b01e2b" stroke-width="4"/>
<text class="lt" x="231.78" y="1611.3" font-size="37.5" fill="#575756" stroke="#575756" stroke-width="0.75" textLength="281.04" lengthAdjust="spacingAndGlyphs">Base CAL 2027</text>
<line x1="560.6" x2="649.5" y1="1599.1" y2="1599.1" stroke="#e9bd48" stroke-width="4"/>
<text class="lt" x="662.98" y="1611.3" font-size="37.5" fill="#575756" stroke="#575756" stroke-width="0.75" textLength="282.04" lengthAdjust="spacingAndGlyphs">Base CAL 2028</text>
<line x1="992.2" x2="1081.1" y1="1599.1" y2="1599.1" stroke="#2e3a8c" stroke-width="4"/>
<text class="lt" x="1093.98" y="1611.3" font-size="37.5" fill="#575756" stroke="#575756" stroke-width="0.75" textLength="282.04" lengthAdjust="spacingAndGlyphs">Base CAL 2029</text>
<line x1="1424.1" x2="1512.3" y1="1599.1" y2="1599.1" stroke="#8c8c8c" stroke-width="4"/>
<text class="lt" x="1523.99" y="1611.3" font-size="37.5" fill="#575756" stroke="#575756" stroke-width="0.75" textLength="285.02" lengthAdjust="spacingAndGlyphs">Base CAL 2030</text>
</g>
<g id="arrows" fill="none" stroke="#5fa537" stroke-width="4.4" stroke-linecap="butt" stroke-linejoin="miter">
<path d="M300.8,1650.4 L343.2,1690.5 M317.9,1693.4 L343.2,1690.5 L344.7,1665.0"/>
<path d="M733.1,1650.0 L774.4,1690.0 M749.0,1692.6 L774.4,1690.0 L776.2,1664.6"/>
<path d="M1161.2,1654.1 L1208.1,1686.6 M1183.5,1693.3 L1208.1,1686.6 L1205.8,1661.2"/>
<path d="M1592.8,1654.1 L1639.7,1686.6 M1615.1,1693.3 L1639.7,1686.6 L1637.4,1661.2"/>
</g>
<g id="pct" class="bd" font-size="51" fill="#575756" stroke="#575756" stroke-width="1.1" stroke-linejoin="round">
<text x="228.97" y="1752.8" textLength="189.55" lengthAdjust="spacingAndGlyphs">-0,92%</text>
<text x="665.45" y="1752.8" textLength="179.08" lengthAdjust="spacingAndGlyphs">-1,80%</text>
<text x="1093.96" y="1752.8" textLength="184.06" lengthAdjust="spacingAndGlyphs">-3,23%</text>
<text x="1526.44" y="1752.8" textLength="182.57" lengthAdjust="spacingAndGlyphs">-2,72%</text>
</g>
</svg>
</body></html>
